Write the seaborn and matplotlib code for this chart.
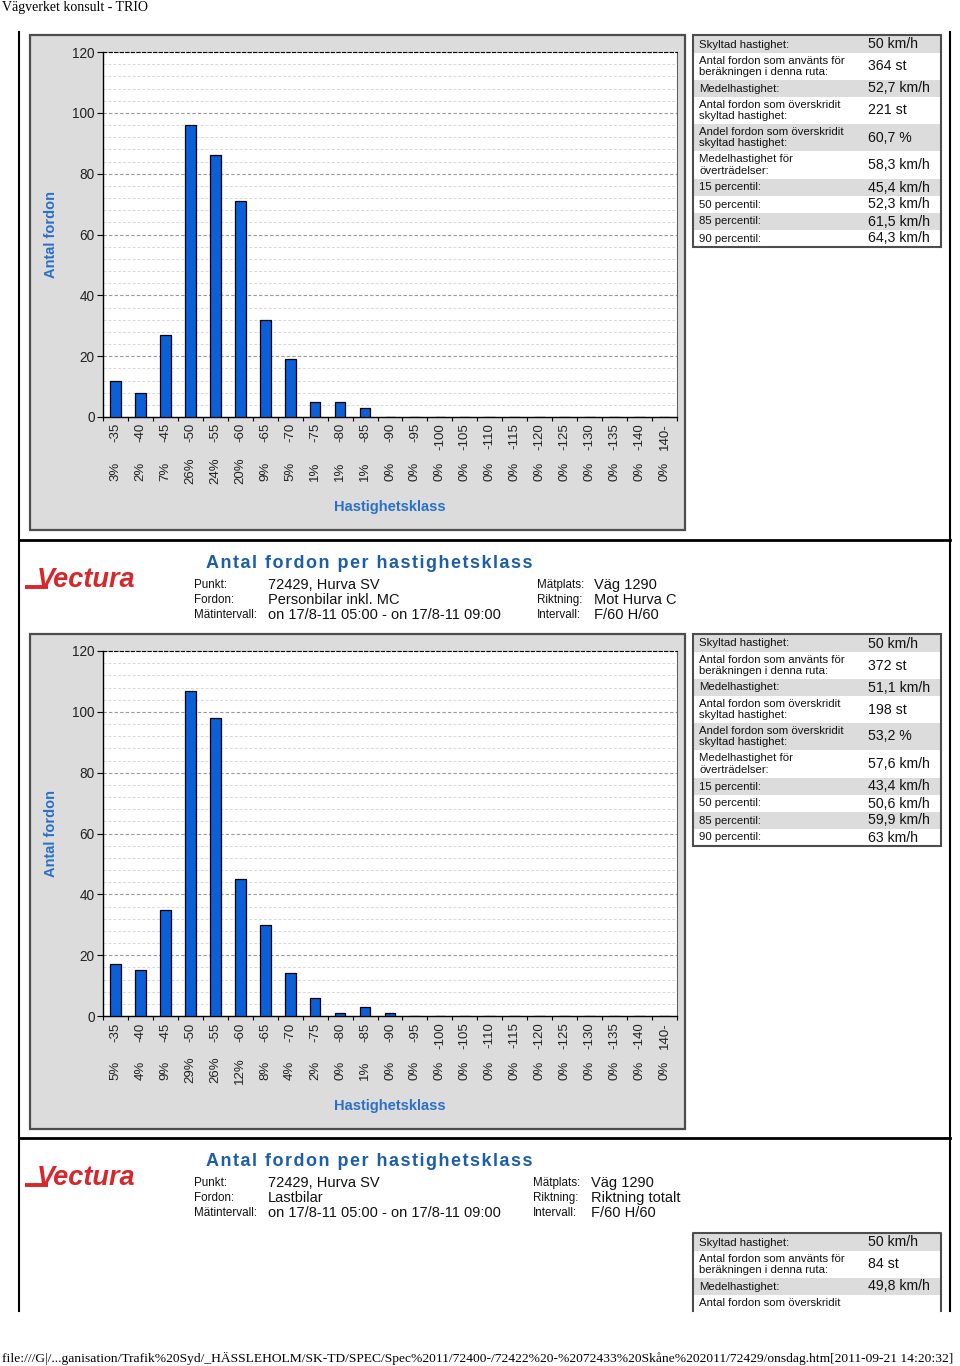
import numpy as np
import pandas as pd
import seaborn as sns
import matplotlib.pyplot as plt
from matplotlib.patches import Rectangle
from matplotlib.ticker import MultipleLocator, FixedLocator

# hastighetsklasser
klasser = ['-35', '-40', '-45', '-50', '-55', '-60', '-65', '-70', '-75', '-80', '-85', '-90',
           '-95', '-100', '-105', '-110', '-115', '-120', '-125', '-130', '-135', '-140', '140-']

antal_1 = [12, 8, 27, 96, 86, 71, 32, 19, 5, 5, 3, 0, 0, 0, 0, 0, 0, 0, 0, 0, 0, 0, 0]
andel_1 = ['3%', '2%', '7%', '26%', '24%', '20%', '9%', '5%', '1%', '1%', '1%', '0%',
           '0%', '0%', '0%', '0%', '0%', '0%', '0%', '0%', '0%', '0%', '0%']

antal_2 = [17, 15, 35, 107, 98, 45, 30, 14, 6, 1, 3, 1, 0, 0, 0, 0, 0, 0, 0, 0, 0, 0, 0]
andel_2 = ['5%', '4%', '9%', '29%', '26%', '12%', '8%', '4%', '2%', '0%', '1%', '0%',
           '0%', '0%', '0%', '0%', '0%', '0%', '0%', '0%', '0%', '0%', '0%']

etiketter = ['Skyltad hastighet:', 'Antal fordon som använts för\nberäkningen i denna ruta:',
             'Medelhastighet:', 'Antal fordon som överskridit\nskyltad hastighet:',
             'Andel fordon som överskridit\nskyltad hastighet:', 'Medelhastighet för\növerträdelser:',
             '15 percentil:', '50 percentil:', '85 percentil:', '90 percentil:']
varden_1 = ['50 km/h', '364 st', '52,7 km/h', '221 st', '60,7 %', '58,3 km/h',
            '45,4 km/h', '52,3 km/h', '61,5 km/h', '64,3 km/h']
varden_2 = ['50 km/h', '372 st', '51,1 km/h', '198 st', '53,2 %', '57,6 km/h',
            '43,4 km/h', '50,6 km/h', '59,9 km/h', '63 km/h']
varden_3 = ['50 km/h', '84 st', '49,8 km/h', '']

rubrik = 'Antal fordon per hastighetsklass'
huvud_etiketter = ['Punkt:', 'Fordon:', 'Mätintervall:']
huvud_etiketter2 = ['Mätplats:', 'Riktning:', 'Intervall:']
huvud_2 = ['72429, Hurva SV', 'Personbilar inkl. MC', 'on 17/8-11 05:00 - on 17/8-11 09:00']
huvud2_2 = ['Väg 1290', 'Mot Hurva C', 'F/60 H/60']
huvud_3 = ['72429, Hurva SV', 'Lastbilar', 'on 17/8-11 05:00 - on 17/8-11 09:00']
huvud2_3 = ['Väg 1290', 'Riktning totalt', 'F/60 H/60']

sidhuvud = 'Vägverket konsult - TRIO'
sidfot = ('file:///G|/...ganisation/Trafik%20Syd/_HÄSSLEHOLM/SK-TD/SPEC/Spec%2011/72400-/'
          '72422%20-%2072433%20Skåne%202011/72429/onsdag.htm[2011-09-21 14:20:32]')

W, H = 960, 1366
SANS = ['Liberation Sans', 'DejaVu Sans']
NARROW = ['Liberation Sans Narrow', 'Liberation Sans', 'DejaVu Sans']
SERIF = ['Liberation Serif', 'DejaVu Serif']
BLA = '#2a70c6'
plt.rcParams['font.family'] = SANS

fig = plt.figure(figsize=(W / 100, H / 100), dpi=100)
bg = fig.add_axes([0, 0, 1, 1])
bg.set_xlim(0, W)
bg.set_ylim(H, 0)
bg.axis('off')


def px_box(x, y, w, h):
    return [x / W, 1 - (y + h) / H, w / W, h / H]


def spatiera(s):
    # glesare text som i originalet
    return '\u200a'.join(s)


def rita_diagram(top, antal, andel):
    bg.add_patch(Rectangle((30, top), 655, 495, fc='#dcdcdc', ec='#4d4d4d', lw=1.6))
    ax = fig.add_axes(px_box(103, top + 17, 574, 365))
    df = pd.DataFrame({'klass': klasser, 'antal': antal})
    sns.barplot(data=df, x='klass', y='antal', ax=ax, color='#0b5fd8', saturation=1,
                width=0.43, edgecolor='black', linewidth=0.9, zorder=3)
    ax.set_facecolor('white')
    ax.set_xlim(-0.5, len(klasser) - 0.5)
    ax.set_ylim(0, 120)
    ax.yaxis.set_major_locator(MultipleLocator(20))
    ax.yaxis.set_minor_locator(MultipleLocator(4))
    ax.grid(which='minor', axis='y', color='#d8d8d8', ls=(0, (3, 2)), lw=0.7, zorder=0)
    ax.grid(which='major', axis='y', color='#999999', ls=(0, (3, 2)), lw=0.8, zorder=0)
    ax.tick_params(axis='y', which='major', length=4, width=0.8, pad=2, labelsize=9.8,
                   labelcolor='#222222')
    ax.tick_params(axis='y', which='minor', length=0)
    ax.xaxis.set_minor_locator(FixedLocator(np.arange(-0.5, len(klasser), 1)))
    ax.tick_params(axis='x', which='minor', length=3, width=0.8)
    ax.tick_params(axis='x', which='major', length=0, pad=4.5, labelsize=9.5,
                   labelcolor='#222222')
    ax.set_xticks(range(len(klasser)), klasser, rotation=90)
    for s in ['left', 'bottom']:
        ax.spines[s].set_color('black')
        ax.spines[s].set_linewidth(1)
    ax.spines['right'].set_color('#606060')
    ax.spines['top'].set_linestyle((0, (3, 2)))
    ax.spines['top'].set_color('black')

    sec = ax.secondary_xaxis('bottom')
    sec.set_xticks(range(len(klasser)), andel, rotation=90)
    sec.tick_params(length=0, pad=39, labelsize=9.5, labelcolor='#222222')
    sec.spines['bottom'].set_visible(False)
    for t in sec.get_xticklabels():
        t.set_va('center')

    ax.set_xlabel('Hastighetsklass', color=BLA, fontsize=10.5, fontweight='bold', family=NARROW)
    ax.xaxis.set_label_coords(0.5, -90 / 365)
    ax.xaxis.label.set_va('center')
    ax.set_ylabel('Antal fordon', color=BLA, fontsize=10.5, fontweight='bold', family=NARROW)
    ax.yaxis.set_label_coords(-52 / 574, 0.5)
    ax.yaxis.label.set_va('center')
    return ax


def rita_tabell(top, varden, botten=None):
    hojder = [17, 27, 17, 27, 27, 28, 17, 17, 17, 17]
    x0, x1 = 693, 941
    y = top + 1
    for i, (et, va) in enumerate(zip(etiketter, varden)):
        h = hojder[i]
        if botten is not None and y >= botten:
            break
        hh = h if botten is None else min(h, botten - y)
        if i % 2 == 0:
            bg.add_patch(Rectangle((x0, y), x1 - x0, hh, fc='#dcdcdc', ec='none'))
        if botten is not None and i == 3:
            bg.text(699, y + 8, et.split('\n')[0], fontsize=8.2, va='center', color='#111111')
        else:
            bg.text(699, y + h / 2, et, fontsize=8.2, va='center', color='#111111',
                    linespacing=1.2)
        bg.text(868, y + h / 2, va, fontsize=10.2, va='center', color='#111111')
        y += h
    yb = y if botten is None else botten
    if botten is None:
        bg.add_patch(Rectangle((x0, top), x1 - x0, yb - top, fc='none', ec='#4d4d4d', lw=1.5))
    else:
        bg.plot([x0, x0, x1, x1], [yb, top, top, yb], color='#4d4d4d', lw=1.5)


def rita_huvud(top, vals, vals2, x_et2, x_va2):
    # logo
    bg.plot([25, 48], [top + 47, top + 47], color='#d8262a', lw=2.8, solid_capstyle='butt')
    bg.text(37, top + 47, 'Vectura', color='#d8262a', fontsize=19.5, fontweight='bold',
            fontstyle='italic', va='baseline', family=SANS)
    bg.text(206, top + 23, spatiera(rubrik), color='#1c5ea8', fontsize=13, fontweight='bold',
            va='center')
    for i in range(3):
        yy = top + 45 + 15 * i
        bg.text(194, yy, huvud_etiketter[i], fontsize=8.4, family=NARROW, va='center', color='#111111')
        bg.text(268, yy, vals[i], fontsize=10.5, va='center', color='#111111')
        bg.text(x_et2, yy, huvud_etiketter2[i], fontsize=8.4, family=NARROW, va='center', color='#111111')
        bg.text(x_va2, yy, vals2[i], fontsize=10.5, va='center', color='#111111')


# sidram
bg.plot([19, 19], [32, 1311], color='black', lw=1.5)
bg.plot([950, 950], [32, 1311], color='black', lw=1.5)
bg.plot([19, 950], [540, 540], color='black', lw=2)
bg.plot([19, 950], [1138, 1138], color='black', lw=2)

bg.text(2, 8, sidhuvud, fontsize=10, family=SERIF, va='center')
bg.text(2, 1358, sidfot, fontsize=9.7, family=SERIF, va='center')

rita_diagram(35, antal_1, andel_1)
rita_tabell(35, varden_1)

rita_huvud(540, huvud_2, huvud2_2, 537, 594)
rita_diagram(634, antal_2, andel_2)
rita_tabell(634, varden_2)

rita_huvud(1138, huvud_3, huvud2_3, 533, 591)
rita_tabell(1233, varden_3, botten=1311)

fig.savefig('out.png', dpi=100)
